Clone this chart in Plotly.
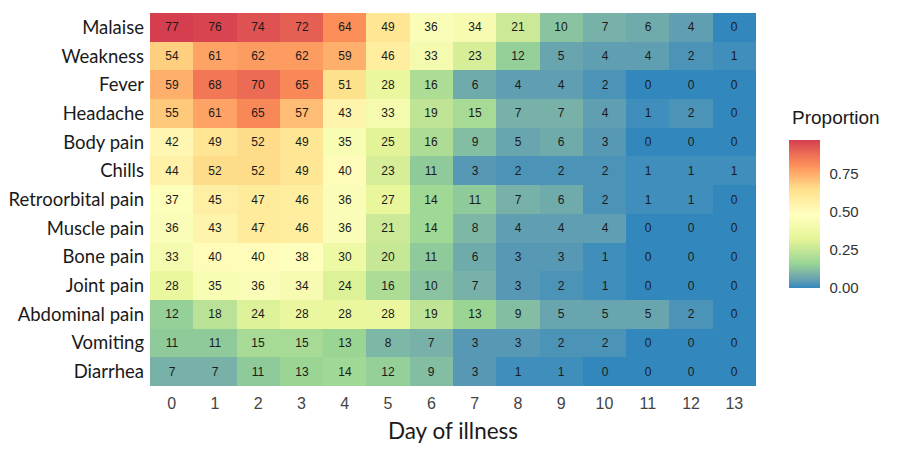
import plotly.graph_objects as go

days = list(range(14))
symptoms = ["Malaise", "Weakness", "Fever", "Headache", "Body pain", "Chills",
            "Retroorbital pain", "Muscle pain", "Bone pain", "Joint pain",
            "Abdominal pain", "Vomiting", "Diarrhea"]

malaise = [77, 76, 74, 72, 64, 49, 36, 34, 21, 10, 7, 6, 4, 0]
weakness = [54, 61, 62, 62, 59, 46, 33, 23, 12, 5, 4, 4, 2, 1]
fever = [59, 68, 70, 65, 51, 28, 16, 6, 4, 4, 2, 0, 0, 0]
headache = [55, 61, 65, 57, 43, 33, 19, 15, 7, 7, 4, 1, 2, 0]
body_pain = [42, 49, 52, 49, 35, 25, 16, 9, 5, 6, 3, 0, 0, 0]
chills = [44, 52, 52, 49, 40, 23, 11, 3, 2, 2, 2, 1, 1, 1]
retroorbital = [37, 45, 47, 46, 36, 27, 14, 11, 7, 6, 2, 1, 1, 0]
muscle_pain = [36, 43, 47, 46, 36, 21, 14, 8, 4, 4, 4, 0, 0, 0]
bone_pain = [33, 40, 40, 38, 30, 20, 11, 6, 3, 3, 1, 0, 0, 0]
joint_pain = [28, 35, 36, 34, 24, 16, 10, 7, 3, 2, 1, 0, 0, 0]
abdominal = [12, 18, 24, 28, 28, 28, 19, 13, 9, 5, 5, 5, 2, 0]
vomiting = [11, 11, 15, 15, 13, 8, 7, 3, 3, 2, 2, 0, 0, 0]
diarrhea = [7, 7, 11, 13, 14, 12, 9, 3, 1, 1, 0, 0, 0, 0]

n_patients = 79  # denominator used for the proportion colour

counts = [malaise, weakness, fever, headache, body_pain, chills, retroorbital,
          muscle_pain, bone_pain, joint_pain, abdominal, vomiting, diarrhea]
props = [[c / n_patients for c in row] for row in counts]
zmax = max(max(r) for r in props)

# Spectral (7, reversed) interpolated in Lab space like ggplot's distiller
pal = ["#3288BD", "#99D594", "#E6F598", "#FFFFBF", "#FEE08B", "#FC8D59", "#D53E4F"]

def hex2rgb(h):
    return [int(h[i:i + 2], 16) / 255 for i in (1, 3, 5)]

def to_lab(rgb):
    lin = [c / 12.92 if c <= 0.04045 else ((c + 0.055) / 1.055) ** 2.4 for c in rgb]
    X = 0.4124 * lin[0] + 0.3576 * lin[1] + 0.1805 * lin[2]
    Y = 0.2126 * lin[0] + 0.7152 * lin[1] + 0.0722 * lin[2]
    Z = 0.0193 * lin[0] + 0.1192 * lin[1] + 0.9505 * lin[2]
    wx, wy, wz = 0.95047, 1.0, 1.08883
    def f(t):
        return t ** (1 / 3) if t > 216 / 24389 else (24389 / 27 * t + 16) / 116
    fx, fy, fz = f(X / wx), f(Y / wy), f(Z / wz)
    return [116 * fy - 16, 500 * (fx - fy), 200 * (fy - fz)]

def from_lab(lab):
    L, a, b = lab
    fy = (L + 16) / 116
    fx = fy + a / 500
    fz = fy - b / 200
    def finv(t):
        return t ** 3 if t ** 3 > 216 / 24389 else (116 * t - 16) / (24389 / 27)
    X, Y, Z = 0.95047 * finv(fx), finv(fy), 1.08883 * finv(fz)
    r = 3.2406 * X - 1.5372 * Y - 0.4986 * Z
    g = -0.9689 * X + 1.8758 * Y + 0.0415 * Z
    bb = 0.0557 * X - 0.2040 * Y + 1.0570 * Z
    out = []
    for c in (r, g, bb):
        c = 12.92 * c if c <= 0.0031308 else 1.055 * c ** (1 / 2.4) - 0.055
        out.append(min(255, max(0, round(c * 255))))
    return "rgb(%d,%d,%d)" % tuple(out)

labs = [to_lab(hex2rgb(h)) for h in pal]
colorscale = []
steps = 48
for k in range(steps + 1):
    t = k / steps
    pos = t * (len(pal) - 1)
    i = min(int(pos), len(pal) - 2)
    u = pos - i
    lab = [labs[i][j] * (1 - u) + labs[i + 1][j] * u for j in range(3)]
    colorscale.append([t, from_lab(lab)])

# layout geometry: screenshot pixels; the page body adds an 8px offset
OFF = 8
W, H = 900 - OFF, 452 - OFF
plot_l, plot_r, plot_t, plot_b = 150, 756, 13, 386
ml, mt = plot_l - OFF, plot_t - OFF
mr, mb = 900 - plot_r, 452 - plot_b
pw, ph = plot_r - plot_l, plot_b - plot_t
cb_top_px, cb_len, cb_left_px, cb_thick = 139.5, 148, 789, 31

def px_x(px):
    return (px - plot_l) / pw

def px_y(py):
    return (plot_b - py) / ph

tickvals = [0, 0.25, 0.5, 0.75]
ticktext = ["0.00", "0.25", "0.50", "0.75"]

fig = go.Figure(go.Heatmap(
    z=props, x=days, y=symptoms, text=counts,
    texttemplate="%{text}",
    textfont=dict(family="Liberation Sans, Arial, sans-serif", size=12, color="#1a1a1a"),
    colorscale=colorscale, zmin=0, zmax=zmax, xgap=0, ygap=0,
    hovertemplate="%{y}, day %{x}: %{text}<extra></extra>",
    colorbar=dict(
        lenmode="pixels", len=cb_len, thickness=cb_thick,
        x=px_x(cb_left_px), xanchor="left", xpad=0,
        y=px_y(cb_top_px), yanchor="top", ypad=0,
        outlinewidth=0, tickvals=tickvals, ticktext=ticktext,
        ticks="outside", ticklen=7, tickcolor="rgba(0,0,0,0)", tickwidth=1,
        tickfont=dict(family="Liberation Sans, Arial, sans-serif", size=15, color="#333333"),
    ),
))

# white tick marks on both sides of the colour bar (as ggplot draws them)
for v in tickvals:
    yy = px_y(cb_top_px + cb_len * (1 - v / zmax))
    for xa, xb in ((cb_left_px, cb_left_px + 6),
                   (cb_left_px + cb_thick - 6, cb_left_px + cb_thick)):
        fig.add_shape(type="line", xref="paper", yref="paper",
                      x0=px_x(xa), x1=px_x(xb), y0=yy, y1=yy,
                      line=dict(color="white", width=1))

fig.add_annotation(text="Proportion", xref="paper", yref="paper",
                   x=px_x(790), y=px_y(118), xanchor="left", yanchor="middle",
                   showarrow=False,
                   font=dict(family="Liberation Sans, Arial, sans-serif", size=19, color="#1a1a1a"))

fig.update_layout(
    width=W, height=H, margin=dict(l=ml, r=mr, t=mt, b=mb, autoexpand=False),
    paper_bgcolor="white", plot_bgcolor="white",
    xaxis=dict(tickmode="array", tickvals=days, ticktext=[str(d) for d in days],
               showgrid=False, zeroline=False, ticks="", ticklabelstandoff=6,
               tickfont=dict(family="Liberation Sans, Arial, sans-serif", size=16, color="#444444"),
               title=dict(text="Day of illness", standoff=12,
                          font=dict(family="Lato, sans-serif", size=22.5, color="#1a1a1a"))),
    yaxis=dict(autorange="reversed", showgrid=False, zeroline=False, ticks="",
               ticklabelstandoff=5,
               tickfont=dict(family="Lato, sans-serif", size=18.5, color="#1a1a1a")),
)

fig.write_html("out.html")
